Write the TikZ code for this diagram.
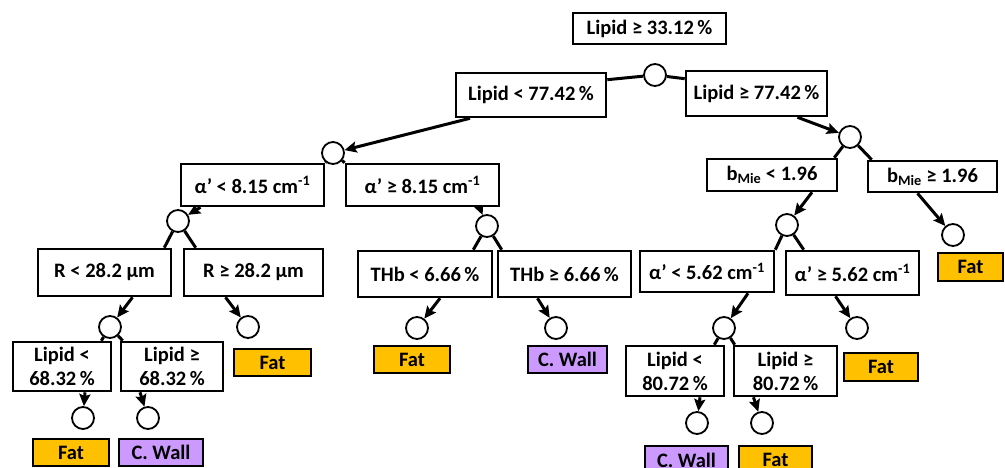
\documentclass[tikz,border=0pt]{standalone}
\usepackage{fontspec}
\setmainfont{Carlito}
\usetikzlibrary{arrows.meta,backgrounds}
\definecolor{fatcol}{HTML}{FFC000}
\definecolor{wallcol}{HTML}{CC99FF}
\begin{document}
\begin{tikzpicture}[x=1pt,y=-1pt,
        cond/.style={draw,line width=2.6pt,fill=white,inner sep=0pt,align=center,
            font=\fontsize{20.5}{24}\selectfont\bfseries},
        leaf/.style={cond,minimum height=27pt},
        split/.style={circle,draw,line width=1.8pt,fill=white,inner sep=0pt,minimum size=22pt},
        link/.style={line width=3pt},
        arr/.style={line width=3pt,-{Stealth[length=12pt,width=11pt,inset=2pt]}}]
                \useasboundingbox (0,0) rectangle (1005,468);

                % top of the tree
                \node[cond,minimum width=153pt,minimum height=31pt] (root) at (649.5, 28.5) {Lipid ≥ 33.12\,\%};
                \node[split] (s0) at (655, 75) {};
                \node[cond,minimum width=150pt,minimum height=44pt] (lipLo) at (531, 95) {Lipid < 77.42\,\%};
                \node[cond,minimum width=141pt,minimum height=45pt] (lipHi) at (756.5, 93.5) {Lipid ≥ 77.42\,\%};
                \node[split] (s1) at (333, 153) {};
                \node[split] (s2) at (850, 137) {};

                % left branch
                \node[cond,minimum width=143pt,minimum height=42pt] (alpLo) at (252.5, 185) {α’ < 8.15 cm\textsuperscript{-1}};
                \node[cond,minimum width=153pt,minimum height=42pt] (alpHi) at (422.5, 185) {α’ ≥ 8.15 cm\textsuperscript{-1}};
                \node[split] (s3) at (178, 221) {};
                \node[split] (s4) at (487, 226) {};
                \node[cond,minimum width=133pt,minimum height=47pt] (rLo) at (104.5, 272.5) {R < 28.2 μm};
                \node[cond,minimum width=139pt,minimum height=47pt] (rHi) at (253.5, 272.5) {R ≥ 28.2 μm};
                \node[cond,minimum width=134pt,minimum height=46pt] (thbLo) at (425, 274) {THb < 6.66\,\%};
                \node[cond,minimum width=133pt,minimum height=46pt] (thbHi) at (564.5, 274) {THb ≥ 6.66\,\%};
                \node[split] (s11) at (110, 327) {};
                \node[split] (s12) at (248, 327) {};
                \node[split] (s15) at (417, 328) {};
                \node[split] (s16) at (556, 328) {};
                \node[leaf,fill=fatcol,minimum width=77pt] (fatR) at (272.5, 362.5) {Fat};
                \node[leaf,fill=fatcol,minimum width=76pt] (fatT) at (412, 359.5) {Fat};
                \node[leaf,fill=wallcol,minimum width=79pt] (wallT) at (567.5, 359.5) {C. Wall};
                \node[cond,minimum width=98pt,minimum height=49pt] (lip2Lo) at (62, 366.5) {Lipid <\\68.32\,\%};
                \node[cond,minimum width=102pt,minimum height=49pt] (lip2Hi) at (172, 366.5) {Lipid ≥\\68.32\,\%};
                \node[split] (s13) at (83, 418) {};
                \node[split] (s14) at (148, 418) {};
                \node[leaf,fill=fatcol,minimum width=76pt] (fat2) at (71, 452.5) {Fat};
                \node[leaf,fill=wallcol,minimum width=84pt] (wall2) at (161, 452.5) {C. Wall};

                % right branch
                \node[cond,minimum width=130pt,minimum height=32pt] (bLo) at (772, 175) {b\textsubscript{Mie} < 1.96};
                \node[cond,minimum width=129pt,minimum height=31pt] (bHi) at (932.5, 176.5) {b\textsubscript{Mie} ≥ 1.96};
                \node[split] (s5) at (787, 225) {};
                \node[split] (s6) at (953, 235) {};
                \node[leaf,fill=fatcol,minimum width=65pt,minimum height=28pt] (fatB) at (970.5, 267) {Fat};
                \node[cond,minimum width=134pt,minimum height=41pt] (alpLo2) at (707, 271.5) {α’ < 5.62 cm\textsuperscript{-1}};
                \node[cond,minimum width=133pt,minimum height=44pt] (alpHi2) at (852.5, 273) {α’ ≥ 5.62 cm\textsuperscript{-1}};
                \node[split] (s7) at (724, 328) {};
                \node[split] (s8) at (857, 328) {};
                \node[leaf,fill=fatcol,minimum width=74pt,minimum height=28pt] (fatA2) at (881, 367) {Fat};
                \node[cond,minimum width=98pt,minimum height=50pt] (lip3Lo) at (675, 371) {Lipid <\\80.72\,\%};
                \node[cond,minimum width=103pt,minimum height=50pt] (lip3Hi) at (785.5, 371) {Lipid ≥\\80.72\,\%};
                \node[split] (s9) at (697, 423) {};
                \node[split] (s10) at (762, 423) {};
                \node[leaf,fill=wallcol,minimum width=83pt,minimum height=28pt] (wall3) at (686.5, 460) {C. Wall};
                \node[leaf,fill=fatcol,minimum width=73pt,minimum height=28pt] (fat3) at (775.5, 460) {Fat};

                \begin{scope}[on background layer]
                    % splits to their two conditions
                    \draw[link] (s0) -- ([yshift=-8]lipLo.north east);
                    \draw[link] (s0) -- ([yshift=-9]lipHi.north west);
                    \draw[link] (s1) -- (alpLo.north east);
                    \draw[link] (s1) -- (alpHi.north west);
                    \draw[link] (s2) -- ([xshift=-4]bLo.north east);
                    \draw[link] (s2) -- ([xshift=5]bHi.north west);
                    \draw[link] (s3) -- ([xshift=-8]rLo.north east);
                    \draw[link] (s3) -- ([xshift=13]rHi.north west);
                    \draw[link] (s4) -- ([xshift=-20]thbLo.north east);
                    \draw[link] (s4) -- ([xshift=5]thbHi.north west);
                    \draw[link] (s5) -- (alpLo2.north east);
                    \draw[link] (s5) -- ([xshift=19]alpHi2.north west);
                    \draw[link] (s11) -- ([xshift=-11]lip2Lo.north east);
                    \draw[link] (s11) -- ([xshift=3]lip2Hi.north west);
                    \draw[link] (s7) -- ([xshift=-11]lip3Lo.north east);
                    \draw[link] (s7) -- ([xshift=2]lip3Hi.north west);

                    % conditions to the next split
                    \draw[arr] ([xshift=-61]lipLo.south) -- (s1);
                    \draw[arr] ([xshift=41]lipHi.south) -- (s2);
                    \draw[arr] ([xshift=-52]alpLo.south) -- (s3);
                    \draw[arr] ([xshift=57]alpHi.south) -- (s4);
                    \draw[arr] ([xshift=28]rLo.south) -- (s11);
                    \draw[arr] ([xshift=-28]rHi.south) -- (s12);
                    \draw[arr] ([xshift=15]thbLo.south) -- (s15);
                    \draw[arr] ([xshift=-27]thbHi.south) -- (s16);
                    \draw[arr] ([xshift=23]lip2Lo.south) -- (s13);
                    \draw[arr] ([xshift=-32]lip2Hi.south) -- (s14);
                    \draw[arr] ([xshift=40]bLo.south) -- (s5);
                    \draw[arr] ([xshift=-15]bHi.south) -- (s6);
                    \draw[arr] ([xshift=41]alpLo2.south) -- (s7);
                    \draw[arr] ([xshift=-17]alpHi2.south) -- (s8);
                    \draw[arr] ([xshift=25]lip3Lo.south) -- (s9);
                    \draw[arr] ([xshift=-32]lip3Hi.south) -- (s10);
                \end{scope}
            \end{tikzpicture}
\end{document}
